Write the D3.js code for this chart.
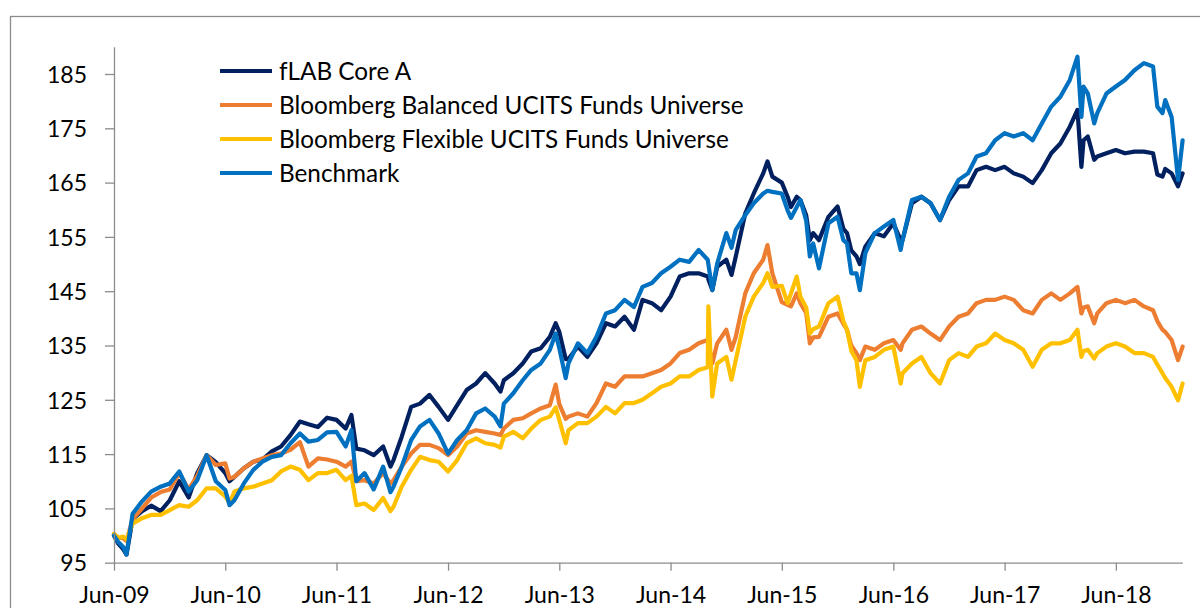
<!DOCTYPE html>
<html>
<head>
<meta charset="utf-8">
<script src="https://cdn.jsdelivr.net/npm/d3@7"></script>
<style>
  html, body { margin: 0; padding: 0; background: #ffffff; }
  svg { display: block; font-family: Lato, "Open Sans", sans-serif; }
</style>
</head>
<body>
<svg id="chart" width="1200" height="608"></svg>
<script>
const seriesNames = ["fLAB Core A", "Bloomberg Balanced UCITS Funds Universe", "Bloomberg Flexible UCITS Funds Universe", "Benchmark"];
const seriesColors = ["#002060", "#ED7D31", "#FFC000", "#0070C0"];

const dates = [
"2009-06-01","2009-06-15","2009-07-01","2009-07-12","2009-08-01","2009-09-01","2009-10-01","2009-11-01","2009-12-01","2010-01-01",
"2010-02-01","2010-03-01","2010-04-01","2010-05-01","2010-06-01","2010-06-15","2010-07-01","2010-08-01","2010-09-01","2010-10-01",
"2010-11-01","2010-12-01","2011-01-01","2011-02-01","2011-03-01","2011-04-01","2011-05-01","2011-06-01","2011-07-01","2011-07-20",
"2011-08-05","2011-09-01","2011-10-01","2011-11-01","2011-11-25","2011-12-05","2012-01-01","2012-02-01","2012-03-01","2012-04-01",
"2012-05-01","2012-06-01","2012-07-01","2012-08-01","2012-09-01","2012-10-01","2012-11-01","2012-11-20","2012-12-01","2013-01-01",
"2013-02-01","2013-03-01","2013-04-01","2013-05-01","2013-05-20","2013-06-01","2013-06-22","2013-07-01","2013-08-01","2013-09-01",
"2013-10-01","2013-11-01","2013-12-01","2014-01-01","2014-02-01","2014-03-01","2014-04-01","2014-05-01","2014-06-01","2014-07-01",
"2014-08-01","2014-09-01","2014-10-01","2014-10-03","2014-10-16","2014-11-01","2014-12-01","2014-12-18","2015-01-01","2015-02-01",
"2015-03-01","2015-04-01","2015-04-15","2015-05-01","2015-06-01","2015-06-20","2015-07-01","2015-07-20","2015-08-01","2015-08-20",
"2015-09-01","2015-09-12","2015-10-01","2015-11-01","2015-12-01","2015-12-20","2016-01-01","2016-01-15","2016-02-01","2016-02-12",
"2016-03-01","2016-04-01","2016-05-01","2016-06-01","2016-06-25","2016-07-01","2016-08-01","2016-09-01","2016-10-01","2016-11-01",
"2016-12-01","2017-01-01","2017-02-01","2017-03-01","2017-04-01","2017-05-01","2017-06-01","2017-07-01","2017-08-01","2017-09-01",
"2017-10-01","2017-11-01","2017-12-01","2018-01-01","2018-01-26","2018-02-08","2018-02-15","2018-03-01","2018-03-22","2018-04-01",
"2018-05-01","2018-06-01","2018-07-01","2018-08-01","2018-09-01","2018-10-01","2018-10-15","2018-11-01","2018-11-10","2018-12-01",
"2018-12-22","2019-01-06"];

const fLAB = [
100,98.5,97.5,96.5,103,104.5,105.5,104.5,106.5,110,
107,111.5,114.8,113.5,111.5,110,110.8,112.4,113.6,114,
115.5,116.4,118.5,121,120.5,120,121.7,121.3,119.7,122.2,
116,115.7,114.8,116.4,112.7,113.9,118.2,123.7,124.3,125.9,
123.7,121.3,124,126.8,128,129.9,128,126.5,128.6,129.9,
131.7,133.9,134.5,136.6,139.1,137.5,132.5,132.5,134.8,132.9,
135.4,139.1,138.5,140.3,137.9,143.4,142.8,141.5,144,147.7,
148.3,148.3,147.7,147.2,145.2,149.5,150.8,148,151.4,159.3,
163,166.7,168.9,166.1,165,162.4,160.5,162.4,161.8,159,
154.4,155.7,154.4,158.7,160.6,156.5,155.7,152.5,151.4,150,
153.2,155.7,155.1,157.5,154.4,154.4,161.2,162.4,161.2,158.1,
161.8,164.3,164.3,167.3,167.9,167.3,167.9,166.7,166.1,164.9,
167.3,170.4,172.2,175.3,178.4,167.9,172.8,173.5,169.2,169.8,
170.4,171,170.4,170.7,170.7,170.4,166.5,166.1,167.5,166.7,
164.3,166.7];

const balanced = [
100.3,99.6,99.5,99,103,105,107,108,108.5,111.5,
108.5,111,114.8,113,113.3,110.5,110.8,112.4,113.6,114.2,
114.8,115.1,115.8,117.2,112.7,114.2,114,113.6,112.7,113.6,
110,110.2,109.6,111.5,109.6,110.2,112.7,115.1,116.7,116.7,
116.1,114.8,116.4,118.8,119.4,119.1,118.8,118.5,119.7,121.3,
121.6,122.5,123.4,124,127.8,124.2,121.5,121.9,122.5,121.9,
124.4,128,127.4,129.3,129.3,129.3,129.9,130.5,131.7,133.6,
134.2,135.4,136,135.5,131.7,135.4,137.9,134.2,136.6,144.6,
148.3,150.8,153.5,148.3,143,142.5,142.2,144.6,142.8,141,
135.4,136.5,136.6,140.3,140.9,139,137.9,135,133.6,132.3,
134.8,134.2,135.4,136,134.2,135.4,137.9,138.5,137.2,136,
138.5,140.3,140.9,142.8,143.4,143.4,144,143.4,141.5,140.9,
143.4,144.6,143.4,144.6,145.8,140.9,142,142.2,139.1,140.9,
142.8,143.4,142.8,143.4,142.2,141.5,139.5,137.9,137.5,136,
132.3,134.8];

const flexible = [
100.3,99.6,99.8,99.3,102.2,103.2,103.8,103.8,104.7,105.6,
105.3,106.5,108.7,108.7,107.2,106,108.1,108.7,109,109.6,
110.2,111.8,112.7,112.1,110.2,111.5,111.5,112.1,110.2,111,
105.6,105.9,104.7,106.9,104.5,105.3,109,112.1,114.5,113.9,
113.6,111.8,113.9,117,117.9,117,116.7,116.2,118.2,119.1,
117.9,119.7,121.3,121.9,123.6,121.3,117,119.4,120.7,120.7,
121.9,123.7,122.5,124.4,124.4,125,126.2,127.4,128,129.3,
129.3,130.5,131,142.2,125.6,131.7,132.9,128.7,132.3,140.3,
144,146.5,148.3,145.8,146,142.8,144.6,147.7,144,142,
137.2,138,138.5,142.8,144,139.5,137.9,134,132.3,127.4,
132.3,132.9,134.2,134.8,128,129.9,131.7,132.9,129.9,128,
132.3,133.6,132.9,134.8,135.4,137.2,136,135.4,134.2,131.1,
134.2,135.4,135.4,136,137.9,132.9,134,134.2,132.6,133.6,
134.8,135.4,134.8,133.6,133.6,132.9,131.5,129.9,129,127.4,
124.9,128];

const benchmark = [
100,98.8,97.9,96.5,104,106.3,108.1,109,109.6,111.8,
108.1,110.2,114.8,110,108.4,105.6,106.5,109.6,112.1,113.6,
114.5,114.8,117,118.8,117.3,117.6,119,119.1,116.4,119.4,
110,111.5,108.5,112.7,108,109,112.7,117.6,120.1,121.3,
118.8,115.1,117.6,119.4,122.5,123.4,121.9,120.1,124.3,126.2,
128.6,130.5,131.7,134.2,137.2,134.5,129,131.7,135.4,133.6,
136.6,140.9,141.5,143.4,142.1,145.8,146.5,148.3,149.5,150.8,
150.4,152.6,150.8,150,145.2,150.1,155.7,153,156.3,159,
161.2,163,163.5,163.3,163,159.9,158.5,160.5,161.8,158,
151.4,153.8,149.2,157.5,158.7,154.4,153.8,148.3,148.3,145.2,
152,155.7,156.9,158.1,152.6,154.4,161.8,162.4,161.2,158.1,
162.4,165.5,166.7,169.8,170.4,172.8,174.1,173.5,174.1,172.8,
175.9,179,180.8,183.9,188.2,177.1,182.7,181.4,175.9,177.8,
181.4,182.7,183.9,185.7,187,186.4,179,177.8,180.2,177.1,
165.5,172.8];

const yTicks = [95, 105, 115, 125, 135, 145, 155, 165, 175, 185];
const xTickDates = ["2009-06-01","2010-06-01","2011-06-01","2012-06-01","2013-06-01","2014-06-01","2015-06-01","2016-06-01","2017-06-01","2018-06-01"];
const xTickLabels = ["Jun-09","Jun-10","Jun-11","Jun-12","Jun-13","Jun-14","Jun-15","Jun-16","Jun-17","Jun-18"];

const parse = d3.timeParse("%Y-%m-%d");
const svg = d3.select("#chart");
const axisColor = "#8c8c8c";
const axisFontSize = 23;
const legendFontSize = 24.3;

// outer chart border
svg.append("rect")
  .attr("x", 10.5).attr("y", 16.5)
  .attr("width", 1300).attr("height", 700)
  .attr("fill", "none").attr("stroke", axisColor).attr("stroke-width", 1.3);

const x = d3.scaleTime()
  .domain([parse("2009-06-01"), parse("2019-01-05")])
  .range([114, 1182.3]);
const y = d3.scaleLinear().domain([95, 190]).range([562.7, 46.85]);

const seriesValues = [fLAB, balanced, flexible, benchmark];
const parsedDates = dates.map(parse);

const line = d3.line()
  .x(d => x(d[0]))
  .y(d => y(d[1]))
  .curve(d3.curveLinear);

seriesValues.forEach((vals, i) => {
  const pts = parsedDates.map((d, j) => [d, vals[j]]);
  svg.append("path")
    .datum(pts)
    .attr("d", line)
    .attr("fill", "none")
    .attr("stroke", seriesColors[i])
    .attr("stroke-width", 4.2)
    .attr("stroke-linejoin", "round")
    .attr("stroke-linecap", "round");
});

// Y axis
const yAxis = d3.axisLeft(y)
  .tickValues(yTicks)
  .tickSize(9)
  .tickSizeOuter(0)
  .tickPadding(18)
  .tickFormat(d3.format("d"));
const gy = svg.append("g").attr("transform", "translate(114,0)").call(yAxis);

// X axis
const xLabelMap = new Map(xTickDates.map((d, i) => [parse(d).getTime(), xTickLabels[i]]));
const xAxis = d3.axisBottom(x)
  .tickValues(xTickDates.map(parse))
  .tickSize(8)
  .tickSizeOuter(0)
  .tickPadding(16)
  .tickFormat(d => xLabelMap.get(d.getTime()));
const gx = svg.append("g").attr("transform", "translate(0,562.7)").call(xAxis);

[gx, gy].forEach(g => {
  g.select(".domain").attr("stroke", axisColor).attr("stroke-width", 1.3);
  g.selectAll(".tick line").attr("stroke", axisColor).attr("stroke-width", 1.3);
  g.selectAll(".tick text")
    .attr("fill", "#000")
    .style("font-family", "Lato, 'Open Sans', sans-serif")
    .style("font-size", axisFontSize + "px");
});
gy.selectAll(".tick text").attr("dy", "0.36em");

// Legend
const legend = svg.append("g");
const legendY = [71, 105, 139, 173];
seriesNames.forEach((name, i) => {
  legend.append("line")
    .attr("x1", 220).attr("x2", 272)
    .attr("y1", legendY[i]).attr("y2", legendY[i])
    .attr("stroke", seriesColors[i]).attr("stroke-width", 4);
  legend.append("text")
    .attr("x", 279).attr("y", legendY[i])
    .attr("dy", "0.36em")
    .style("font-size", legendFontSize + "px")
    .attr("fill", "#000")
    .text(name);
});
</script>
</body>
</html>
